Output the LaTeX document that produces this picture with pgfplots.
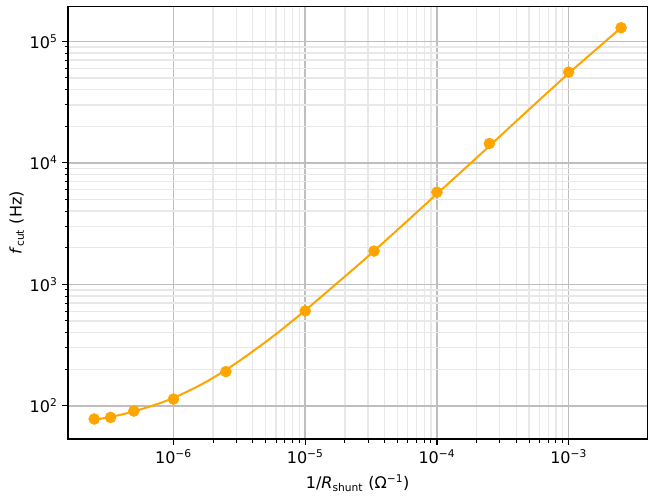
\documentclass[border=0pt]{standalone}
\usepackage{fontspec}
\setmainfont{DejaVu Sans}
\usepackage{pgfplots}
\pgfplotsset{compat=1.18}

\definecolor{mplorange}{RGB}{255,165,0}
\definecolor{majgrid}{RGB}{190,190,190}
\definecolor{mingrid}{RGB}{232,232,232}

\newcommand{\pw}[1]{10\textsuperscript{#1}}

\begin{document}
\begin{tikzpicture}
\begin{axis}[
  name=ax,
  xmode=log, ymode=log,
  scale only axis,
  width=434pt, height=324pt,
  xmin=1.583e-7, xmax=3.95e-3,
  ymin=53.2, ymax=1.93e5,
  xtick={1e-6,1e-5,1e-4,1e-3},
  xticklabels={\pw{−6},\pw{−5},\pw{−4},\pw{−3}},
  ytick={1e2,1e3,1e4,1e5},
  yticklabels={\pw{2},\pw{3},\pw{4},\pw{5}},
  xtick pos=bottom, ytick pos=left,
  tick align=outside,
  major tick length=4.4pt,
  minor tick length=2.6pt,
  every tick/.style={black, line width=0.9pt},
  minor tick style={line width=0.7pt},
  axis line style={line width=0.9pt},
  grid=both,
  major grid style={majgrid, line width=1.1pt},
  minor grid style={mingrid, line width=1pt},
  tick label style={font=\fontsize{12pt}{14pt}\selectfont},
  label style={font=\fontsize{12pt}{14pt}\selectfont},
  xlabel={1/\textit{R}\textsubscript{shunt} (Ω\textsuperscript{−1})},
  ylabel={\textit{f}\textsubscript{cut} (Hz)},
  xlabel style={at={(axis description cs:0.5,-0.102)}, anchor=center},
  ylabel style={at={(axis description cs:-0.0885,0.5)}, anchor=center},
]
% fitted curve
\addplot[mplorange, line width=1.5pt, smooth] coordinates {
  (2.5e-7,77) (3e-7,79.2) (4e-7,84.5) (5e-7,90) (7e-7,100.5)
  (1e-6,116) (1.5e-6,143) (2e-6,170) (3e-6,225) (5e-6,335)
  (7e-6,445) (1e-5,610) (2e-5,1160) (3e-5,1700) (5e-5,2800)
  (1e-4,5550) (2e-4,11000) (5e-4,27500) (1e-3,54500)
  (1.5e-3,80000) (2e-3,105000) (2.5e-3,129500)
};
% measured points
\addplot[only marks, mark=*, mark size=4.1pt, mplorange] coordinates {
  (2.5e-7,77.8) (3.33e-7,80.2) (5e-7,90.5) (1e-6,113.5) (2.5e-6,191)
  (1e-5,604) (3.33e-5,1878) (1e-4,5730) (2.5e-4,14420) (1e-3,55800)
  (2.5e-3,129400)
};
\end{axis}
\path ([xshift=-51pt,yshift=-44.25pt]ax.south west) rectangle ([xshift=5.8pt,yshift=5pt]ax.north east);
\end{tikzpicture}
\end{document}
